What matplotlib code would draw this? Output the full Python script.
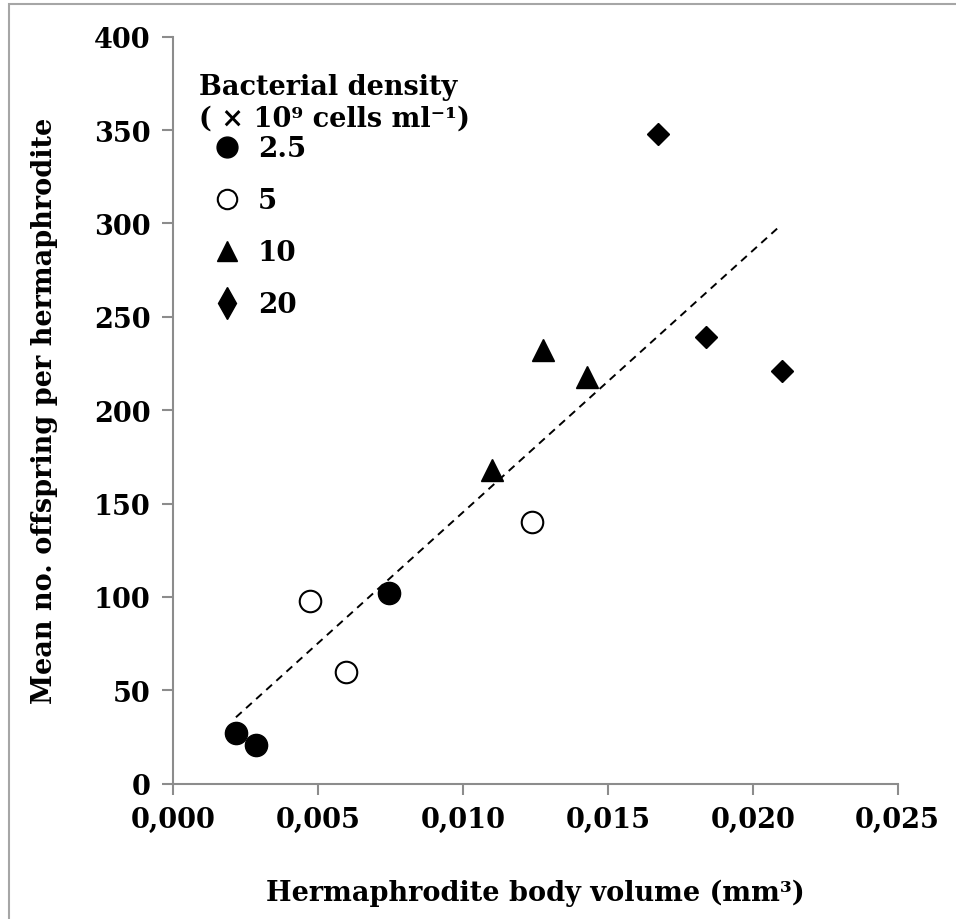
import matplotlib
matplotlib.use('Agg')
import matplotlib.pyplot as plt
from matplotlib.patches import Rectangle
from matplotlib.lines import Line2D

plt.rcParams['font.family'] = ['DejaVu Serif']
plt.rcParams['font.weight'] = 'bold'

# data (body volume in mm3, mean offspring)
x_25 = [0.00217, 0.00287, 0.00746]
y_25 = [27, 21, 102]
x_5 = [0.00471, 0.00597, 0.01239]
y_5 = [98, 60, 140]
x_10 = [0.01101, 0.01275, 0.01429]
y_10 = [168, 232, 218]
x_20 = [0.01672, 0.01837, 0.02102]
y_20 = [348, 239, 221]
trend_x = [0.00217, 0.02093]
trend_y = [35.6, 298.5]

density_labels = ['2.5', '5', '10', '20']
xticks = [0.000, 0.005, 0.010, 0.015, 0.020, 0.025]
yticks = [0, 50, 100, 150, 200, 250, 300, 350, 400]

fig = plt.figure(figsize=(9.56, 9.2), dpi=100)
ax = fig.add_axes([0.181, 0.147, 0.758, 0.812])

ax.plot(trend_x, trend_y, color='black', lw=1.4, linestyle=(0, (4, 3)))
ax.plot(x_25, y_25, 'o', color='black', ms=16)
ax.plot(x_5, y_5, 'o', mfc='white', mec='black', mew=1.5, ms=15.5)
ax.plot(x_10, y_10, '^', color='black', ms=16)
ax.plot(x_20, y_20, 'D', color='black', ms=11.5)

ax.set_xlim(0, 0.025)
ax.set_ylim(0, 400)
ax.set_xticks(xticks)
ax.set_xticklabels(['{:.3f}'.format(v).replace('.', ',') for v in xticks])
ax.set_yticks(yticks)
for s in ['top', 'right']:
    ax.spines[s].set_visible(False)
for s in ['left', 'bottom']:
    ax.spines[s].set_color('#8c8c8c')
    ax.spines[s].set_linewidth(1.5)
ax.tick_params(colors='#8c8c8c', length=8, width=1.5, labelcolor='black',
               labelsize=19.5, pad=8)
for lab in ax.get_xticklabels() + ax.get_yticklabels():
    lab.set_fontweight('bold')

ax.set_xlabel('Hermaphrodite body volume (mm³)', fontsize=19.5, fontweight='bold',
              labelpad=33)
ax.set_ylabel('Mean no. offspring per hermaphrodite', fontsize=19.5,
              fontweight='bold', labelpad=26)

# legend title as plain text, entries as a legend below it
ax.text(0.036, 0.952, 'Bacterial density\n( × 10⁹ cells ml⁻¹)', transform=ax.transAxes,
        ha='left', va='top', fontsize=19.5, fontweight='bold', linespacing=1.25)

handles = [
    Line2D([], [], ls='none', marker='o', color='black', ms=15),
    Line2D([], [], ls='none', marker='o', mfc='white', mec='black', mew=1.5, ms=14),
    Line2D([], [], ls='none', marker='^', color='black', ms=15),
    Line2D([], [], ls='none', marker='d', color='black', ms=16),
]
leg = ax.legend(handles, density_labels, loc='upper left', bbox_to_anchor=(0.042, 0.868),
                frameon=False, prop={'size': 20, 'weight': 'bold'}, handlelength=1.7,
                handletextpad=0.25, labelspacing=0.9, borderaxespad=0, borderpad=0)

fig.add_artist(Rectangle((9 / 956, -0.1), 1.2, 1.1 - 5 / 920, transform=fig.transFigure,
                         fill=False, edgecolor='#a6a6a6', lw=1.5))

fig.savefig('out.png', dpi=100)
